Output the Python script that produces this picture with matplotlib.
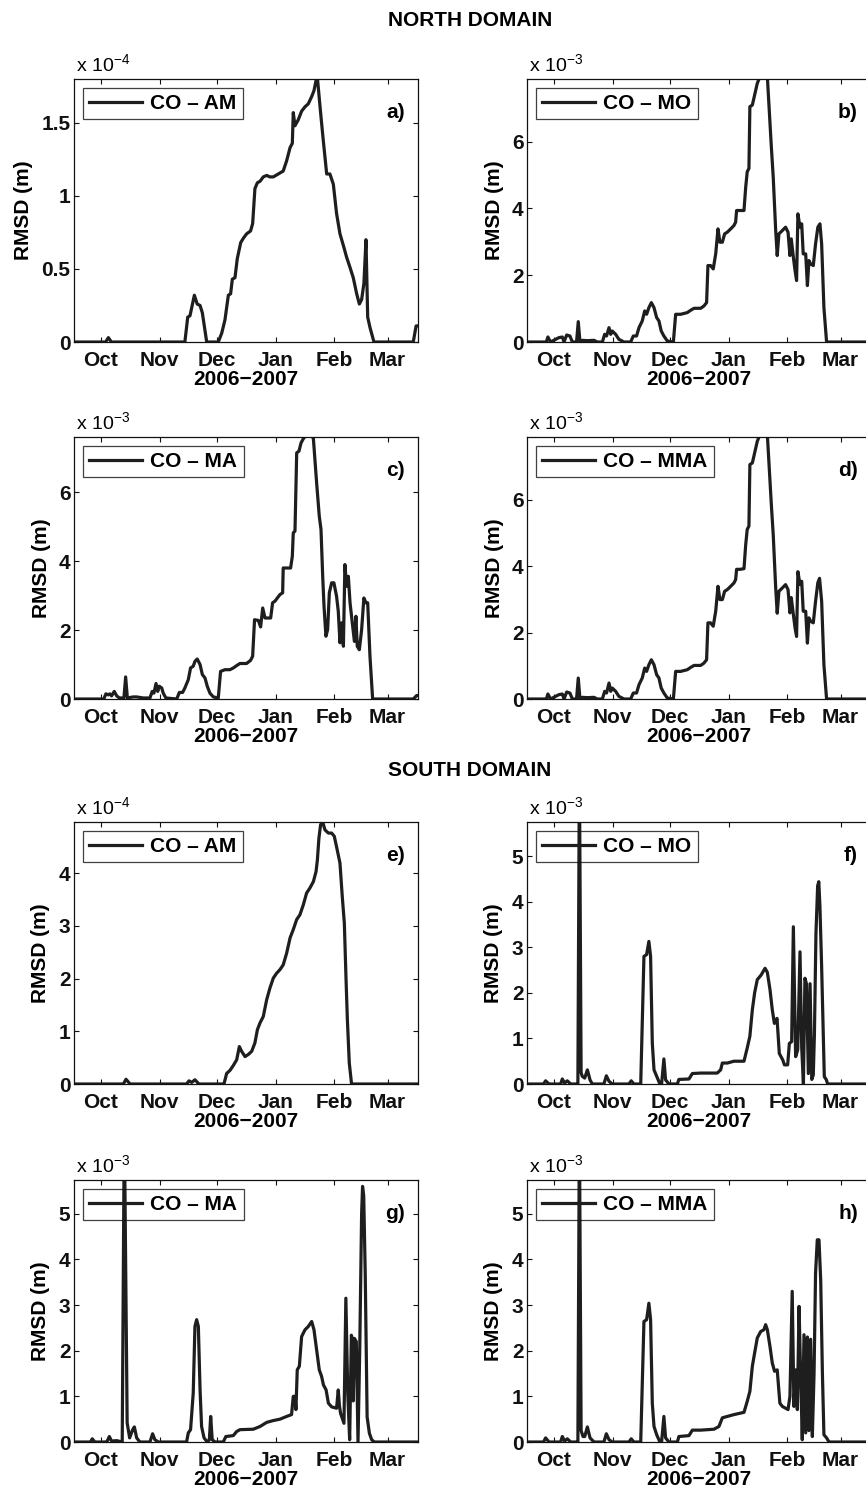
import matplotlib
matplotlib.use('Agg')
import matplotlib.pyplot as plt

plt.rcParams['font.family'] = ['Liberation Sans', 'DejaVu Sans']
plt.rcParams['mathtext.fontset'] = 'custom'
plt.rcParams['mathtext.rm'] = 'Liberation Sans'
plt.rcParams['mathtext.it'] = 'Liberation Sans:italic'
plt.rcParams['mathtext.bf'] = 'Liberation Sans:bold'
plt.rcParams['mathtext.default'] = 'regular'

# x axis: days since 1 Oct 2006
month_ticks = [0, 31, 61, 92, 123, 151]
month_labels = ['Oct', 'Nov', 'Dec', 'Jan', 'Feb', 'Mar']
x_label = '2006\u22122007'
y_label = 'RMSD (m)'

# (day, RMSD in units of the panel's scale factor)
north_am = [(-15,0),(2.5,0),(3.9,0.03),(5.5,0),(44.2,0),(45.7,0.17),(46.9,0.18),(49.2,0.32),(50.7,0.26),
            (52.2,0.25),(53.4,0.20),(55.7,0),(61.8,0),(63.6,0.06),(65.3,0.15),(67.1,0.32),(68.3,0.33),
            (69.2,0.43),(70.6,0.44),(71.8,0.57),(73.6,0.68),(75.0,0.71),(76.7,0.74),(78.8,0.76),(79.9,0.81),
            (81.1,1.05),(82.4,1.09),(83.8,1.10),(85.5,1.13),(87.3,1.14),(89.0,1.13),(90.8,1.13),(93.4,1.15),
            (96.0,1.17),(97.8,1.24),(99.6,1.33),(100.8,1.36),(101.3,1.57),(102.2,1.48),(103.9,1.52),
            (105.7,1.58),(107.5,1.61),(109.2,1.63),(111.0,1.68),(112.2,1.72),(113.3,1.79),(114.0,1.81),
            (115.4,1.61),(117.1,1.38),(118.9,1.15),(120.6,1.15),(122.4,1.08),(124.1,0.88),(125.9,0.74),
            (127.7,0.66),(129.4,0.58),(131.2,0.51),(132.9,0.44),(134.7,0.33),(136.1,0.26),(137.3,0.29),
            (138.5,0.40),(139.6,0.70),(140.5,0.17),(141.7,0.10),(143.8,0),(164.5,0),(166,0.11),(168,0.11)]

north_mo = [(-15,0),(-4,0),(-3.2,0.15),(-1.8,0),(2.6,0.13),(4.4,0.15),(5.3,0),(6.7,0.21),(8.4,0.18),(9.7,0),
            (11.9,0),(12.8,0.61),(13.7,0),(14.9,0.05),(17.6,0.04),(21.1,0.05),(22.8,0),(25.5,0),(26.7,0.23),
            (27.7,0.18),(29.0,0.43),(29.9,0.23),(30.7,0.33),(32.5,0.23),(34.2,0.08),(36.9,0),(40.4,0),
            (41.8,0.18),(43.5,0.18),(44.8,0.43),(46.5,0.63),(47.8,0.93),(48.8,0.83),(50.0,1.03),(51.3,1.18),
            (52.7,1.03),(54.1,0.73),(55.3,0.63),(56.5,0.33),(57.9,0.18),(59.7,0.03),(62.9,0),(64.1,0.83),
            (66.7,0.83),(70.2,0.88),(72.0,0.95),(73.8,1.01),(77.3,1.01),(79.0,1.08),(80.4,1.18),(81.1,2.29),
            (82.5,2.29),(83.9,2.19),(85.2,2.64),(86.4,3.39),(87.4,2.99),(88.7,2.99),(89.9,3.24),(91.3,3.29),
            (93.1,3.39),(94.8,3.49),(95.7,3.59),(96.2,3.94),(98.0,3.94),(100.1,3.94),(101.0,4.64),(101.8,5.10),
            (102.7,5.20),(103.2,7.05),(104.5,7.10),(105.7,7.40),(107.1,7.75),(108.5,7.95),(112.4,7.95),
            (113.3,7.05),(114.5,5.85),(115.5,4.94),(116.8,3.34),(117.6,2.59),(118.5,3.24),(120.3,3.34),
            (122.0,3.44),(123.3,3.29),(124.3,2.59),(125.0,3.09),(126.1,2.54),(127.0,2.14),(127.8,1.84),
            (128.5,3.84),(129.6,3.44),(130.5,3.54),(131.3,2.64),(132.6,2.64),(133.5,1.69),(134.3,2.44),
            (135.2,2.34),(136.6,2.29),(137.8,2.94),(139.0,3.44),(140.1,3.54),(141.0,2.94),(142.2,1.03),
            (143.6,0),(168,0)]

north_ma = [(-15,0),(1.5,0),(2.6,0.15),(3.9,0.12),(4.7,0.15),(5.6,0.09),(7.0,0.22),(8.3,0.09),(9.7,0.03),
            (12.1,0.03),(13.0,0.64),(13.9,0.03),(17.0,0.06),(18.8,0.06),(22.3,0.03),(25.8,0.03),(27.0,0.22),
            (27.9,0.17),(29.0,0.45),(29.9,0.22),(30.7,0.37),(32.0,0.32),(32.8,0.17),(34.2,0.03),(39.9,0),
            (41.3,0.19),(43.0,0.19),(44.2,0.32),(46.0,0.56),(47.2,0.90),(48.6,0.95),(49.5,1.09),(50.7,1.16),
            (52.2,1.00),(53.4,0.71),(54.8,0.61),(56.0,0.37),(57.4,0.17),(59.2,0.06),(61.8,0.03),(63.0,0.80),
            (65.3,0.85),(67.9,0.85),(69.7,0.90),(71.5,0.97),(73.2,1.03),(76.7,1.03),(78.8,1.12),(79.9,1.24),
            (80.9,2.30),(82.9,2.28),(84.1,2.09),(85.2,2.64),(86.4,2.35),(88.1,2.35),(89.4,2.35),(90.4,2.79),
            (91.7,2.84),(92.9,2.93),(94.3,3.03),(95.7,3.08),(96.0,3.80),(97.8,3.80),(99.9,3.80),(100.8,4.14),
            (101.3,4.82),(102.2,4.87),(103.1,7.14),(104.3,7.19),(105.4,7.43),(106.6,7.55),(108.0,7.65),
            (111.0,7.65),(111.9,7.55),(113.6,6.27),(115.0,5.30),(115.9,4.92),(116.8,3.56),(117.5,2.69),
            (118.5,1.82),(119.4,2.01),(120.3,3.08),(121.5,3.37),(122.7,3.37),(124.1,2.98),(125.0,2.55),
            (125.9,1.63),(126.8,2.21),(127.7,1.53),(128.5,3.90),(129.4,3.27),(130.3,3.56),(131.2,2.79),
            (132.0,2.40),(133.5,1.67),(134.3,2.40),(135.0,1.53),(136.1,1.43),(137.3,2.01),(138.5,2.93),
            (139.6,2.79),(140.5,2.79),(141.7,1.24),(143.1,0),(164.5,0),(166.3,0.1),(168,0.1)]

north_mma = [(-15,0),(-4,0),(-3.2,0.15),(-1.8,0),(2.6,0.13),(4.4,0.15),(5.3,0),(6.7,0.21),(8.4,0.18),(9.7,0),
             (11.9,0),(12.8,0.63),(13.7,0),(14.9,0.05),(17.6,0.04),(21.1,0.05),(22.8,0),(25.5,0),(26.7,0.23),
             (27.7,0.18),(29.0,0.48),(29.9,0.23),(30.7,0.33),(32.5,0.23),(34.2,0.08),(36.9,0),(40.4,0),
             (41.8,0.18),(43.5,0.18),(44.8,0.43),(46.5,0.63),(47.8,0.93),(48.8,0.83),(50.0,1.03),(51.3,1.18),
             (52.7,1.03),(54.1,0.73),(55.3,0.63),(56.5,0.33),(57.9,0.18),(59.7,0.03),(62.9,0),(64.1,0.83),
             (66.7,0.83),(70.2,0.88),(72.0,0.95),(73.8,1.01),(77.3,1.01),(79.0,1.08),(80.4,1.18),(81.1,2.29),
             (82.5,2.29),(83.9,2.19),(85.2,2.64),(86.4,3.39),(87.4,2.99),(88.7,2.99),(89.9,3.24),(91.3,3.29),
             (93.1,3.39),(94.8,3.49),(95.7,3.59),(96.2,3.90),(98.0,3.90),(100.1,3.92),(101.0,4.64),(101.8,5.10),
             (102.7,5.20),(103.2,7.05),(104.5,7.10),(105.7,7.40),(107.1,7.75),(108.5,7.95),(112.4,7.95),
             (113.3,7.05),(114.5,5.85),(115.5,4.94),(116.8,3.34),(117.6,2.58),(118.5,3.24),(120.3,3.34),
             (122.0,3.44),(123.3,3.29),(124.3,2.59),(125.0,3.05),(126.1,2.54),(127.0,2.14),(127.8,1.88),
             (128.5,3.83),(129.6,3.44),(130.5,3.54),(131.3,2.64),(132.6,2.64),(133.5,1.68),(134.3,2.44),
             (135.2,2.34),(136.6,2.29),(137.8,2.94),(139.0,3.50),(139.9,3.63),(141.0,2.94),(142.2,1.03),
             (143.6,0),(168,0)]

south_am = [(-15,0),(11.8,0),(13.2,0.09),(15.3,0),(45.1,0),(46.4,0.06),(47.8,0.03),(49.5,0.08),(51.6,0),
            (64.8,0),(66.2,0.20),(68.0,0.26),(69.7,0.35),(71.5,0.46),(72.9,0.71),(74.1,0.62),(75.9,0.52),
            (77.6,0.56),(79.4,0.62),(81.1,0.78),(82.4,1.03),(83.8,1.16),(85.5,1.28),(87.3,1.60),(89.0,1.82),
            (90.8,2.01),(92.5,2.10),(94.3,2.17),(96.0,2.26),(97.8,2.48),(99.6,2.77),(101.3,2.93),(103.1,3.12),
            (104.8,3.21),(106.6,3.40),(108.3,3.62),(110.1,3.72),(111.9,3.84),(113.3,4.03),(114.0,4.25),
            (114.8,4.66),(115.7,4.92),(116.8,4.97),(118.0,4.82),(119.8,4.76),(121.5,4.76),(122.9,4.70),
            (124.1,4.50),(125.9,4.19),(127.1,3.56),(128.2,3.05),(129.1,1.98),(129.8,1.22),(130.8,0.40),
            (132.0,0),(168,0)]

south_mo = [(-15,0),(-5.5,0),(-4.4,0.07),(-2.6,0),(3.5,0),(4.4,0.11),(5.6,0.02),(7.0,0.07),(8.8,0),(11.9,0),
            (12.6,0),(13.4,7.0),(14.3,0.25),(14.9,0.17),(16.2,0.13),(17.6,0.31),(19.0,0.09),(20.2,0),
            (26.3,0),(27.6,0.18),(29.0,0.06),(30.7,0),(39.5,0),(40.7,0.07),(42.1,0),(45.7,0),(47.4,2.80),
            (48.8,2.84),(50.0,3.13),(50.9,2.80),(51.8,0.90),(52.7,0.31),(54.1,0.17),(55.8,0),(56.7,0),
            (57.9,0.55),(58.8,0.09),(60.6,0),(65.0,0),(65.8,0.10),(71.1,0.11),(72.9,0.23),(77.3,0.24),
            (86.0,0.24),(87.8,0.31),(88.7,0.46),(91.3,0.46),(94.8,0.50),(100.1,0.50),(101.8,0.79),(103.2,1.05),
            (104.5,1.63),(105.7,2.00),(107.1,2.29),(109.1,2.39),(111.2,2.54),(112.4,2.45),(113.8,2.07),
            (115.0,1.63),(116.1,1.33),(117.5,1.44),(118.7,0.67),(120.5,0.53),(121.4,0.42),(123.1,0.42),
            (124.0,0.89),(125.2,0.93),(126.1,3.45),(127.3,0.60),(128.4,0.75),(129.6,2.90),(130.5,0.80),
            (131.4,0.0),(132.2,2.32),(133.0,2.20),(134.0,0.23),(134.9,2.20),(135.8,0.10),(136.6,0.20),
            (137.2,1.10),(138.0,3.30),(138.9,4.35),(139.5,4.44),(140.1,3.90),(141.0,2.57),(142.4,0.16),
            (143.4,0.10),(144.2,0),(168,0)]

south_ma = [(-15,0),(-5.5,0),(-4.6,0.07),(-3.2,0),(2.5,0),(3.3,0.02),(4.4,0.12),(5.6,0.02),(8.3,0.03),
            (11.2,0),(12.3,7.0),(13.8,0.42),(15.1,0.09),(16.7,0.27),(17.6,0.33),(18.8,0.09),
            (20.5,0),(25.8,0),(27.2,0.18),(28.4,0.05),(30.2,0),(45.1,0),(46.0,0.20),(47.2,0.27),(48.6,1.07),
            (49.5,2.53),(50.4,2.68),(51.3,2.53),(52.2,1.15),(53.0,0.34),(54.3,0.09),(56.0,0),(57.1,0.05),
            (57.8,0.56),(58.6,0.05),(60.1,0),(64.4,0),(65.8,0.12),(69.7,0.14),(71.5,0.23),(73.2,0.27),
            (80.2,0.28),(83.8,0.34),(87.3,0.43),(90.8,0.47),(94.3,0.50),(97.8,0.56),(100.4,0.60),(101.3,1.00),
            (102.2,1.00),(102.7,0.71),(103.4,1.58),(104.5,1.66),(105.7,2.31),(107.5,2.46),(109.2,2.53),
            (111.0,2.64),(112.2,2.46),(113.6,2.02),(115.0,1.58),(116.2,1.44),(117.2,1.25),(118.6,1.14),
            (119.8,0.85),(121.5,0.77),(124.1,0.74),(125.0,1.14),(125.6,0.80),(126.2,0.63),(128.0,0.41),
            (129.0,3.15),(130.0,1.07),(131.0,0.05),(131.9,2.34),(132.6,2.23),(132.9,0.90),(133.5,2.27),
            (134.5,2.20),(135.4,0.0),(136.3,2.00),(137.3,5.00),(137.8,5.60),(138.4,5.40),(139.2,3.70),
            (140.2,0.55),(141.4,0.19),(142.6,0.05),(144.0,0),(168,0)]

south_mma = [(-15,0),(-5.5,0),(-4.4,0.09),(-2.6,0),(3.5,0),(4.4,0.12),(5.6,0.02),(7.0,0.07),(8.8,0),(11.9,0),
             (12.6,0),(13.4,7.0),(14.3,0.25),(15.3,0.12),(16.2,0.12),(17.6,0.33),(19.0,0.09),(21.1,0),
             (26.3,0),(27.6,0.18),(29.0,0.05),(30.7,0),(39.5,0),(40.7,0.07),(42.1,0),(45.7,0),(47.4,2.64),
             (48.8,2.68),(50.0,3.04),(50.9,2.68),(51.8,0.85),(52.7,0.34),(54.1,0.16),(55.8,0),(56.7,0),
             (57.9,0.56),(58.8,0.09),(60.6,0),(65.0,0),(65.8,0.12),(71.1,0.14),(72.9,0.26),(77.3,0.26),
             (84.3,0.28),(86.9,0.34),(88.7,0.53),(91.3,0.56),(94.8,0.60),(100.1,0.65),(101.8,0.89),
             (103.2,1.11),(104.5,1.66),(105.7,1.95),(107.1,2.28),(108.9,2.42),(110.6,2.46),(111.5,2.57),
             (112.4,2.46),(113.8,2.09),(115.0,1.73),(116.2,1.55),(117.6,1.58),(119.0,0.85),(120.3,0.78),
             (122.0,0.74),(123.3,0.71),(124.3,1.0),(125.5,3.30),(126.4,0.78),(127.3,1.58),(128.2,0.71),
             (129.1,2.97),(129.9,1.51),(130.8,0.05),(131.7,2.35),(132.6,0.20),(133.5,2.30),(134.3,0.25),
             (135.2,2.25),(136.1,0.12),(137.0,1.50),(137.8,3.70),(138.7,4.43),(139.6,4.43),(140.5,3.55),
             (141.4,1.51),(142.2,0.16),(143.6,0.09),(144.9,0),(168,0)]

legend_labels = ['CO \u2013 AM', 'CO \u2013 MO', 'CO \u2013 MA', 'CO \u2013 MMA',
                 'CO \u2013 AM', 'CO \u2013 MO', 'CO \u2013 MA', 'CO \u2013 MMA']
panel_letters = ['a)', 'b)', 'c)', 'd)', 'e)', 'f)', 'g)', 'h)']
series = [north_am, north_mo, north_ma, north_mma, south_am, south_mo, south_ma, south_mma]
exponents = [-4, -3, -3, -3, -4, -3, -3, -3]
y_tops = [1.80, 7.88, 7.60, 7.88, 4.97, 5.75, 5.74, 5.74]
y_ticks = [[0, 0.5, 1, 1.5], [0, 2, 4, 6], [0, 2, 4, 6], [0, 2, 4, 6],
           [0, 1, 2, 3, 4], [0, 1, 2, 3, 4, 5], [0, 1, 2, 3, 4, 5], [0, 1, 2, 3, 4, 5]]
y_ticklabels = [['0', '0.5', '1', '1.5'], ['0', '2', '4', '6'], ['0', '2', '4', '6'], ['0', '2', '4', '6'],
                ['0', '1', '2', '3', '4'], ['0', '1', '2', '3', '4', '5'], ['0', '1', '2', '3', '4', '5'],
                ['0', '1', '2', '3', '4', '5']]
titles = ['NORTH DOMAIN', 'SOUTH DOMAIN']

W, H = 866, 1494
fig = plt.figure(figsize=(W / 100, H / 100), dpi=100)

col_left = [74, 527]
ax_w = 344
rows = [(79, 342), (437, 699), (822, 1084), (1180, 1442)]
line_color = '#1e1e1e'
fs = 15

for i in range(8):
    r, c = divmod(i, 2)
    top, bot = rows[r]
    ax = fig.add_axes([col_left[c] / W, 1 - bot / H, ax_w / W, (bot - top) / H])
    xs = [p[0] for p in series[i]]
    ys = [p[1] for p in series[i]]
    ax.plot(xs, ys, color=line_color, lw=2.3, label=legend_labels[i], solid_joinstyle='round')
    ax.set_xlim(-14.2, 167.0)
    ax.set_ylim(0, y_tops[i])
    ax.set_xticks(month_ticks)
    ax.set_xticklabels(month_labels)
    ax.set_yticks(y_ticks[i])
    ax.set_yticklabels(y_ticklabels[i])
    ax.tick_params(direction='in', top=True, right=True, length=3.5, width=0.8,
                   labelsize=fs, colors='#111111')
    ax.tick_params(axis='x', pad=6.5)
    ax.tick_params(axis='y', pad=2.5)
    for lab in ax.get_xticklabels() + ax.get_yticklabels():
        lab.set_fontweight('bold')
    for s in ax.spines.values():
        s.set_linewidth(0.9)
        s.set_color('#111111')
    ax.set_xlabel(x_label, fontsize=fs, fontweight='bold', labelpad=0)
    ax.set_ylabel(y_label, fontsize=fs, fontweight='bold', labelpad=6)
    leg = ax.legend(loc='upper left', prop={'weight': 'bold', 'size': fs},
                    frameon=True, fancybox=False, borderpad=0.3, borderaxespad=0.42,
                    handlelength=2.55, handletextpad=0.4)
    leg.get_frame().set_edgecolor('#111111')
    leg.get_frame().set_facecolor('none')
    leg.get_frame().set_linewidth(0.9)
    ax.text(0.962, 0.874, panel_letters[i], transform=ax.transAxes, ha='right', va='center',
            fontsize=fs, fontweight='bold')
    ax.text(0.005, 1.0 + 8 / (bot - top), 'x 10$^{%d}$' % exponents[i], transform=ax.transAxes,
            ha='left', va='baseline', fontsize=14)

fig.text(470 / W, 1 - 20 / H, titles[0], ha='center', va='center', fontsize=fs, fontweight='bold')
fig.text(470 / W, 1 - 770 / H, titles[1], ha='center', va='center', fontsize=fs, fontweight='bold')

fig.savefig('out.png', dpi=100)
